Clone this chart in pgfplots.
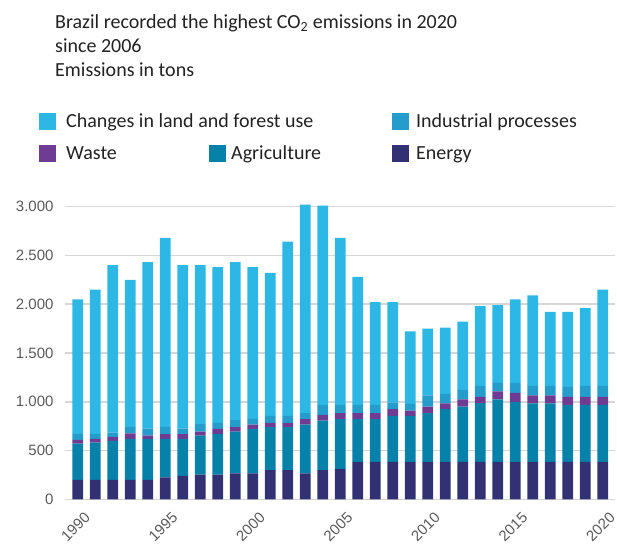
\documentclass[border=0pt]{standalone}
\usepackage{fontspec}
\setmainfont{Carlito}
\newfontfamily\tickfont{Liberation Sans}
\usepackage{pgfplots}
\usepackage{pgfplotstable}
\pgfplotsset{compat=1.18}

\definecolor{landc}{HTML}{2DB7E5}
\definecolor{indc}{HTML}{259DCC}
\definecolor{wastec}{HTML}{6E3C92}
\definecolor{agric}{HTML}{0681A9}
\definecolor{energyc}{HTML}{323174}
\definecolor{gridc}{HTML}{D6D6D6}
\definecolor{tickc}{HTML}{5A5A5A}
\definecolor{textc}{HTML}{222222}

% emissions in tons
\pgfplotstableread{
year energy agri waste ind land
1990 200 371 38 61 1380
1991 200 381 38 51 1480
1992 200 398 42 44 1716
1993 200 419 58 65 1508
1994 200 419 34 72 1705
1995 226 393 48 75 1938
1996 239 380 48 58 1675
1997 253 400 41 76 1630
1998 253 417 52 61 1597
1999 267 427 45 72 1619
2000 267 455 44 58 1556
2001 298 441 44 72 1465
2002 298 441 44 72 1785
2003 267 499 55 62 2137
2004 298 509 58 103 2042
2005 311 510 62 85 1712
2006 383 438 62 85 1312
2007 383 438 62 85 1052
2008 383 472 69 68 1028
2009 383 472 55 68 742
2010 383 500 68 113 686
2011 383 541 58 99 679
2012 383 568 72 99 698
2013 383 603 64 113 817
2014 383 640 82 89 796
2015 383 613 95 103 856
2016 383 599 82 99 927
2017 383 599 82 99 757
2018 383 585 82 103 767
2019 383 585 82 113 797
2020 383 585 82 113 987
}\emissions

\begin{document}
\begin{tikzpicture}[x=1bp,y=1bp]
\useasboundingbox (0,-544) rectangle (617,0);

\begin{axis}[
    at={(65bp,-499.3bp)}, anchor=south west,
    scale only axis, width=550bp, height=297.6bp,
    ybar stacked, bar width=0.61,
    xmin=1989.27, xmax=2020.7,
    ymin=0, ymax=3050,
    axis line style={draw=none},
    major tick length=0,
    ymajorgrids,
    grid style={gridc, line width=1.6bp},
    ytick={0,500,...,3000},
    xtick={1990,1995,...,2020},
    /pgf/number format/assume math mode=true,
    xticklabel style={/pgf/number format/1000 sep={}, font=\tickfont\fontsize{15bp}{15bp}\selectfont, text=tickc,
        xshift=12bp, yshift=-13bp, rotate=45, anchor=east},
    yticklabel style={/pgf/number format/1000 sep={.}, font=\tickfont\fontsize{15bp}{15bp}\selectfont, text=tickc,
        xshift=-8bp},
]
\addplot[fill=energyc, draw=none] table[x=year, y=energy] {\emissions};
\addplot[fill=agric, draw=none] table[x=year, y=agri] {\emissions};
\addplot[fill=wastec, draw=none] table[x=year, y=waste] {\emissions};
\addplot[fill=indc, draw=none] table[x=year, y=ind] {\emissions};
\addplot[fill=landc, draw=none] table[x=year, y=land] {\emissions};
\end{axis}

% title
\begin{scope}[every node/.style={anchor=base west, inner sep=0, text=textc, font=\fontsize{20bp}{24bp}\selectfont}]
\node at (55,-28.6) {Brazil recorded the highest CO\textsubscript{2} emissions in 2020};
\node at (55,-52.6) {since 2006};
\node at (55,-76.6) {Emissions in tons};

% legend
\fill[landc] (39,-113) rectangle (56,-130);
\node at (66,-127.5) {Changes in land and forest use};
\fill[indc] (392,-113) rectangle (409,-130);
\node at (416,-127.5) {Industrial processes};
\fill[wastec] (39,-145) rectangle (56,-162);
\node at (66,-159.5) {Waste};
\fill[agric] (209,-145) rectangle (226,-162);
\node at (231,-159.5) {Agriculture};
\fill[energyc] (392,-145) rectangle (409,-162);
\node at (416,-159.5) {Energy};
\end{scope}
\end{tikzpicture}
\end{document}
